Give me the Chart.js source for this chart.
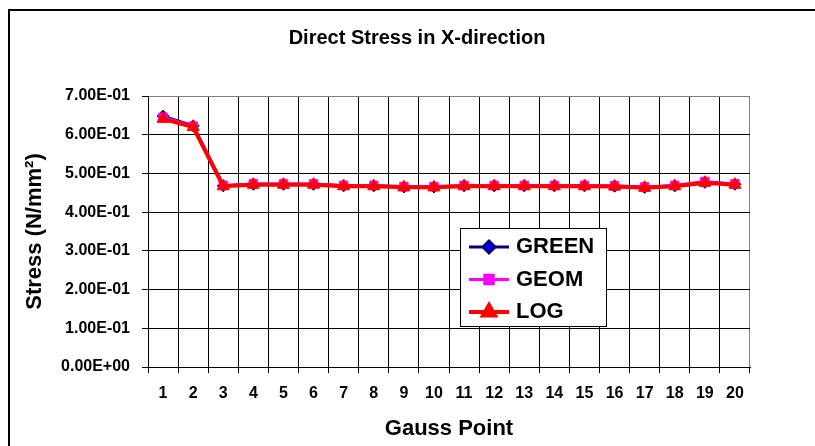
<!DOCTYPE html>
<html>
<head>
<meta charset="utf-8">
<script src="https://cdn.jsdelivr.net/npm/chart.js@4/dist/chart.umd.min.js"></script>
<style>
  html, body { margin: 0; padding: 0; background: #fff; overflow: hidden; }
  #wrap { position: relative; width: 815px; height: 446px; }
  #frame { position: absolute; left: 8px; top: 9px; width: 830px; height: 460px; border: 2px solid #000; pointer-events: none; }
  canvas { position: absolute; left: 0; top: 0; }
</style>
</head>
<body>
<div id="wrap">
  <canvas id="chart" width="815" height="446"></canvas>
  <div id="frame"></div>
</div>
<script>
const gaussPoints = ["1", "2", "3", "4", "5", "6", "7", "8", "9", "10",
  "11", "12", "13", "14", "15", "16", "17", "18", "19", "20"];

const greenValues = [0.648, 0.623, 0.468, 0.472, 0.472, 0.472, 0.468, 0.468, 0.465, 0.465,
  0.468, 0.468, 0.468, 0.468, 0.468, 0.467, 0.464, 0.468, 0.477, 0.472];
const geomValues = [0.645, 0.622, 0.469, 0.473, 0.473, 0.473, 0.469, 0.469, 0.466, 0.466,
  0.469, 0.469, 0.469, 0.469, 0.469, 0.468, 0.465, 0.469, 0.479, 0.473];
const logValues = [0.641, 0.620, 0.467, 0.471, 0.471, 0.471, 0.467, 0.467, 0.464, 0.464,
  0.467, 0.467, 0.467, 0.467, 0.467, 0.466, 0.463, 0.467, 0.476, 0.471];

const yMin = 0;
const yMax = 0.7;
const yStep = 0.1;

const FONT = "'Liberation Sans', Arial, sans-serif";

// Excel style 7.00E-01
function sciLabel(v) {
  const parts = Number(v).toExponential(2).split("e");
  const exp = parts[1];
  return parts[0] + "E" + exp[0] + exp.slice(1).padStart(2, "0");
}

const titlePlugin = {
  id: "chartTitle",
  afterDraw(chart) {
    const ctx = chart.ctx;
    ctx.save();
    ctx.fillStyle = "#000";
    ctx.font = "bold 20px " + FONT;
    ctx.textAlign = "center";
    ctx.textBaseline = "middle";
    ctx.fillText("Direct Stress in X-direction", 417, 38);
    ctx.restore();
  },
};

const legendPlugin = {
  id: "boxLegend",
  afterDraw(chart) {
    const ctx = chart.ctx;
    ctx.save();
    ctx.fillStyle = "#fff";
    ctx.fillRect(460, 228, 147, 99);
    ctx.strokeStyle = "#000";
    ctx.lineWidth = 1;
    ctx.strokeRect(460.5, 228.5, 146, 98);

    chart.data.datasets.forEach((ds, i) => {
      const y = 247 + i * 32.5;
      ctx.strokeStyle = ds.borderColor;
      ctx.lineWidth = ds.borderWidth;
      ctx.beginPath();
      ctx.moveTo(469, y);
      ctx.lineTo(509, y);
      ctx.stroke();

      ctx.fillStyle = ds.pointBackgroundColor;
      ctx.strokeStyle = ds.pointBorderColor;
      Chart.helpers.drawPoint(ctx, {
        pointStyle: ds.pointStyle,
        radius: ds.pointRadius,
        borderWidth: 1,
        rotation: 0,
      }, 489, y);

      ctx.fillStyle = "#000";
      ctx.font = "bold 22px " + FONT;
      ctx.textAlign = "left";
      ctx.textBaseline = "middle";
      ctx.fillText(ds.label, 516, y);
    });
    ctx.restore();
  },
};

const ctx = document.getElementById("chart").getContext("2d");

new Chart(ctx, {
  type: "line",
  data: {
    labels: gaussPoints,
    datasets: [
      {
        label: "GREEN",
        data: greenValues,
        borderColor: "#000080",
        borderWidth: 3,
        pointStyle: "rectRot",
        pointRadius: 6,
        pointBackgroundColor: "#0000FF",
        pointBorderColor: "#000080",
        pointBorderWidth: 1,
        tension: 0,
        order: 2,
      },
      {
        label: "GEOM",
        data: geomValues,
        borderColor: "#FF00FF",
        borderWidth: 3,
        pointStyle: "rect",
        pointRadius: 6,
        pointBackgroundColor: "#FF00FF",
        pointBorderColor: "#FF00FF",
        pointBorderWidth: 1,
        tension: 0,
        order: 1,
      },
      {
        label: "LOG",
        data: logValues,
        borderColor: "#FF0000",
        borderWidth: 4,
        pointStyle: "triangle",
        pointRadius: 7,
        pointBackgroundColor: "#FF0000",
        pointBorderColor: "#FF0000",
        pointBorderWidth: 1,
        tension: 0,
        order: 0,
      },
    ],
  },
  options: {
    responsive: false,
    animation: false,
    layout: { padding: { left: 18, right: 65, top: 96, bottom: 0 } },
    plugins: {
      legend: { display: false },
      title: { display: false },
      tooltip: { enabled: false },
    },
    scales: {
      x: {
        offset: true,
        grid: {
          offset: true,
          color: (c) => (c.type === "tick" ? "#000" : "#808080"),
          tickColor: "#000",
          tickLength: 6,
          lineWidth: 1,
        },
        border: { color: "#000", width: 1 },
        ticks: {
          color: "#000",
          font: { family: FONT, size: 16, weight: "bold" },
          padding: 11,
          maxRotation: 0,
          autoSkip: false,
        },
        title: {
          display: true,
          text: "Gauss Point",
          color: "#000",
          font: { family: FONT, size: 22, weight: "bold" },
        },
        afterFit(scale) {
          scale.height = 79;
        },
      },
      y: {
        min: yMin,
        max: yMax,
        grid: {
          color: (c) => (c.tick && Math.abs(c.tick.value - yMax) < 1e-9 ? "#808080" : "#000"),
          tickColor: "#000",
          tickLength: 6,
          lineWidth: 1,
        },
        border: { color: "#000", width: 1 },
        ticks: {
          stepSize: yStep,
          color: "#000",
          font: { family: FONT, size: 16, weight: "bold" },
          padding: 12,
          callback: (v) => sciLabel(v),
        },
        title: {
          display: true,
          text: "Stress (N/mm²)",
          color: "#000",
          font: { family: FONT, size: 22, weight: "bold" },
        },
        afterFit(scale) {
          scale.width = 130;
        },
      },
    },
  },
  plugins: [titlePlugin, legendPlugin],
});
</script>
</body>
</html>
